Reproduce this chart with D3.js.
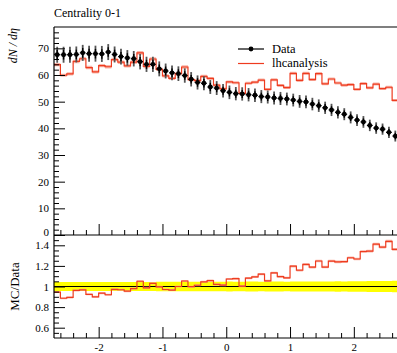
<!DOCTYPE html>
<html>
<head>
<meta charset="utf-8">
<script src="https://cdn.jsdelivr.net/npm/d3@7"></script>
<style>
  body { margin: 0; background: #fff; }
  text { font-family: Palatino, "Liberation Serif", serif; fill: #000; }
</style>
</head>
<body>
<svg id="chart"></svg>
<script>
// binning in eta
const etaLo = -2.7, etaHi = 2.7, binW = 0.1;

// measured dN/deta and its uncertainty, one value per bin
const dataVals = [67.6, 67.6, 67.6, 67.7, 68.3, 68.0, 68.0, 67.9, 68.6, 67.7,
                  66.9, 66.4, 66.1, 65.0, 64.0, 64.0, 62.3, 61.5, 60.8, 60.5,
                  59.8, 58.4, 57.2, 56.9, 55.5, 55.1, 54.1, 53.5, 53.0, 52.9,
                  52.6, 52.4, 51.9, 51.75, 51.4, 51.2, 51.0, 50.6, 50.1, 49.9,
                  49.1, 48.5, 47.7, 46.9, 46.0, 45.3, 44.1, 43.1, 42.4, 41.1,
                  40.1, 39.7, 38.5, 37.1];
const dataErr = [3.0, 3.0, 3.0, 3.0, 3.0, 3.0, 3.0, 3.0, 3.0, 3.0,
                 2.95, 2.95, 2.9, 2.9, 2.85, 2.85, 2.8, 2.8, 2.75, 2.75,
                 2.7, 2.7, 2.65, 2.65, 2.6, 2.6, 2.55, 2.55, 2.5, 2.5,
                 2.5, 2.5, 2.45, 2.45, 2.45, 2.45, 2.4, 2.4, 2.4, 2.4,
                 2.35, 2.35, 2.3, 2.3, 2.3, 2.25, 2.25, 2.2, 2.2, 2.15,
                 2.15, 2.1, 2.1, 2.05];

// lhcanalysis prediction
const mcVals = [63.9, 59.9, 60.4, 65.1, 66.1, 62.8, 61.2, 63.5, 63.1, 65.8,
                64.8, 63.4, 64.8, 68.3, 63.2, 66.0, 62.1, 59.7, 58.7, 60.5,
                63.0, 58.3, 57.9, 59.5, 58.7, 56.2, 54.8, 57.4, 57.1, 53.1,
                56.9, 57.3, 58.1, 54.6, 58.2, 56.1, 55.3, 60.6, 58.0, 60.6,
                58.3, 60.5, 56.7, 58.5, 57.0, 56.2, 56.4, 54.6, 56.8, 55.2,
                56.6, 54.9, 55.4, 50.5];
const mcRelErr = 0.01;

const xMajor = [-2, -1, 0, 1, 2];
const yMajor = [0, 10, 20, 30, 40, 50, 60, 70];
const rMajor = [0.6, 0.8, 1, 1.2, 1.4];

const W = 397, H = 353;
const pLeft = 54, pRight = 398.5, pTop = 27, pMid = 235, pBottom = 338;
const red = "#ee3b1f";

const svg = d3.select("#chart").attr("width", W).attr("height", H);

const x = d3.scaleLinear().domain([etaLo, etaHi]).range([pLeft, pRight]);
const y = d3.scaleLinear().domain([0, 78]).range([pMid, pTop]);
const yr = d3.scaleLinear().domain([0.5, 1.5]).range([pBottom, pMid]);

const bins = dataVals.map((v, i) => ({
  lo: etaLo + i * binW,
  hi: etaLo + (i + 1) * binW,
  c: etaLo + (i + 0.5) * binW,
  data: v,
  err: dataErr[i],
  mc: mcVals[i]
}));
// extra point so the step line reaches the last bin edge
const stepPts = bins.map(b => ({ x: b.lo, b })).concat([{ x: bins[bins.length - 1].hi, b: bins[bins.length - 1] }]);

// minor tick positions
const xMinor = d3.range(-26, 27, 2).map(d => d / 10).filter(d => Math.abs(d - Math.round(d)) > 0.01);
const yMinor = d3.range(0, 78, 2).filter(d => d % 10 !== 0);
const rMinor = d3.range(11, 30).map(d => d * 0.05).filter(d => Math.abs(d * 5 - Math.round(d * 5)) > 0.01);

// ---------- main panel ----------
const mcBand = d3.area().curve(d3.curveStepAfter)
  .x(p => x(p.x)).y0(p => y(p.b.mc * (1 - mcRelErr))).y1(p => y(p.b.mc * (1 + mcRelErr)));
svg.append("path").attr("d", mcBand(stepPts)).attr("fill", "#f7a494").attr("opacity", 0.8);

const mcLine = d3.line().curve(d3.curveStepAfter).x(p => x(p.x)).y(p => y(p.b.mc));
svg.append("path").attr("d", mcLine(stepPts)).attr("fill", "none").attr("stroke", red).attr("stroke-width", 1.2);

const pts = svg.append("g");
pts.selectAll(".ebar").data(bins).enter().append("line")
  .attr("x1", d => x(d.c)).attr("x2", d => x(d.c))
  .attr("y1", d => y(d.data - d.err)).attr("y2", d => y(d.data + d.err))
  .attr("stroke", "#555").attr("stroke-width", 1.8);
pts.selectAll(".ebar2").data(bins).enter().append("line")
  .attr("x1", d => x(d.c)).attr("x2", d => x(d.c))
  .attr("y1", d => y(d.data - d.err * 0.6)).attr("y2", d => y(d.data + d.err * 0.6))
  .attr("stroke", "#000").attr("stroke-width", 1.4);
pts.selectAll(".xbar").data(bins).enter().append("line")
  .attr("x1", d => x(d.lo) + 0.3).attr("x2", d => x(d.hi) - 0.3)
  .attr("y1", d => y(d.data)).attr("y2", d => y(d.data))
  .attr("stroke", "#000").attr("stroke-width", 1.2);
pts.selectAll("circle").data(bins).enter().append("circle")
  .attr("cx", d => x(d.c)).attr("cy", d => y(d.data)).attr("r", 2.4)
  .attr("fill", "#000");

// ---------- ratio panel ----------
const dataBand = d3.area().curve(d3.curveStepAfter)
  .x(p => x(p.x)).y0(p => yr(1 - p.b.err / p.b.data)).y1(p => yr(1 + p.b.err / p.b.data));
svg.append("path").attr("d", dataBand(stepPts)).attr("fill", "#ffff00");

svg.append("line").attr("x1", x(etaLo)).attr("x2", x(etaHi))
  .attr("y1", yr(1)).attr("y2", yr(1)).attr("stroke", "#000").attr("stroke-width", 1.2);

const ratioBand = d3.area().curve(d3.curveStepAfter)
  .x(p => x(p.x)).y0(p => yr(p.b.mc / p.b.data * (1 - mcRelErr))).y1(p => yr(p.b.mc / p.b.data * (1 + mcRelErr)));
svg.append("path").attr("d", ratioBand(stepPts)).attr("fill", "#f7a494").attr("opacity", 0.8);
const ratioLine = d3.line().curve(d3.curveStepAfter).x(p => x(p.x)).y(p => yr(p.b.mc / p.b.data));
svg.append("path").attr("d", ratioLine(stepPts)).attr("fill", "none").attr("stroke", red).attr("stroke-width", 1.2);

// ---------- axes ----------
function addAxis(axis, tx, ty) {
  const g = svg.append("g").attr("transform", `translate(${tx},${ty})`).call(axis);
  g.select(".domain").remove();
  g.selectAll("line").attr("stroke", "#000");
  g.selectAll("text").attr("font-size", 11).style("font-family", 'Palatino, "Liberation Serif", serif');
  return g;
}

// x axis of main panel: ticks only
addAxis(d3.axisBottom(x).tickValues(xMajor).tickSizeInner(-11).tickSizeOuter(0).tickFormat(""), 0, pMid);
addAxis(d3.axisBottom(x).tickValues(xMinor).tickSizeInner(-5).tickSizeOuter(0).tickFormat(""), 0, pMid);
// x axis of ratio panel with labels
addAxis(d3.axisBottom(x).tickValues(xMajor).tickSizeInner(-11).tickSizeOuter(0).tickPadding(5).tickFormat(d => String(d)), 0, pBottom);
addAxis(d3.axisBottom(x).tickValues(xMinor).tickSizeInner(-5).tickSizeOuter(0).tickFormat(""), 0, pBottom);

// y axes
const yMainAxis = addAxis(d3.axisLeft(y).tickValues(yMajor).tickSizeInner(-11).tickSizeOuter(0).tickPadding(5).tickFormat(d => String(d)), pLeft, 0);
// the zero label sits right above the ratio panel, lift it a touch
yMainAxis.selectAll(".tick text").filter(d => d === 0).attr("dy", "0.05em");
addAxis(d3.axisLeft(y).tickValues(yMinor).tickSizeInner(-5).tickSizeOuter(0).tickFormat(""), pLeft, 0);
addAxis(d3.axisLeft(yr).tickValues(rMajor).tickSizeInner(-11).tickSizeOuter(0).tickPadding(5).tickFormat(d => String(d)), pLeft, 0);
addAxis(d3.axisLeft(yr).tickValues(rMinor).tickSizeInner(-5).tickSizeOuter(0).tickFormat(""), pLeft, 0);

// frame lines
const frame = svg.append("g").attr("stroke", "#000").attr("stroke-width", 1.2);
frame.append("line").attr("x1", pLeft).attr("x2", pRight).attr("y1", pTop).attr("y2", pTop);
frame.append("line").attr("x1", pLeft).attr("x2", pRight).attr("y1", pMid).attr("y2", pMid);
frame.append("line").attr("x1", pLeft).attr("x2", pRight).attr("y1", pBottom).attr("y2", pBottom);
frame.append("line").attr("x1", pLeft).attr("x2", pLeft).attr("y1", pTop).attr("y2", pBottom);

// ---------- labels ----------
svg.append("text").attr("x", 54).attr("y", 16.5).style("font-size", "12px").text("Centrality 0-1");

svg.append("text")
  .attr("transform", "translate(17,28) rotate(-90)")
  .attr("text-anchor", "end")
  .style("font-size", "12px").style("font-style", "italic")
  .text("dN / dη");

svg.append("text")
  .attr("transform", `translate(19,${yr(1)}) rotate(-90)`)
  .attr("text-anchor", "middle")
  .style("font-size", "13px")
  .text("MC/Data");

// ---------- legend ----------
const leg = svg.append("g");
leg.append("line").attr("x1", 238).attr("x2", 264).attr("y1", 49).attr("y2", 49).attr("stroke", "#000").attr("stroke-width", 1.2);
leg.append("circle").attr("cx", 251).attr("cy", 49).attr("r", 2.4).attr("fill", "#000");
leg.append("text").attr("x", 272).attr("y", 52.5).style("font-size", "12.5px").text("Data");
leg.append("line").attr("x1", 238).attr("x2", 264).attr("y1", 63.5).attr("y2", 63.5).attr("stroke", red).attr("stroke-width", 1.2);
leg.append("text").attr("x", 272).attr("y", 67).style("font-size", "12.5px").text("lhcanalysis");
</script>
</body>
</html>
